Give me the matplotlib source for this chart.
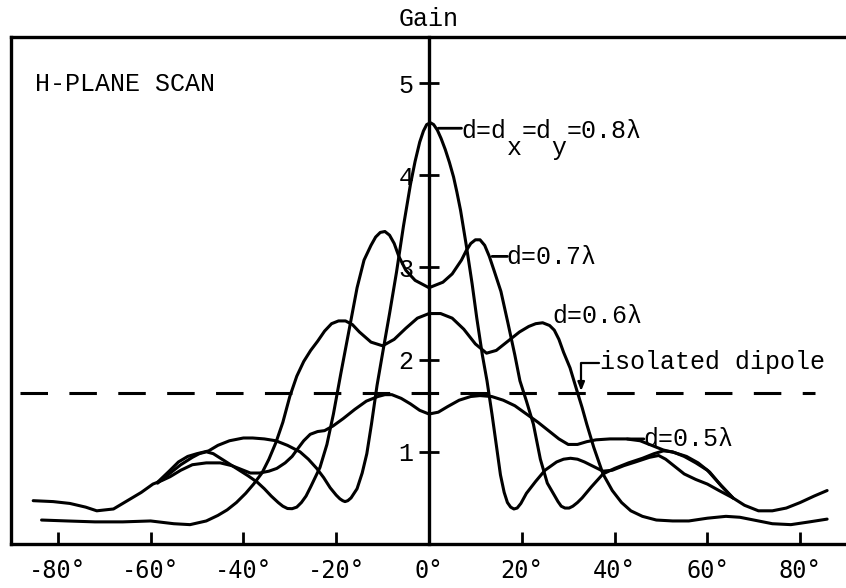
import matplotlib
matplotlib.use("Agg")
import matplotlib.pyplot as plt

# ---------------- data ----------------
# d = 0.5 lambda
x05 = [-85.3, -81, -77.4, -74, -71.6, -68, -65, -62, -59.5, -57.5, -55.8, -53.5, -51, -48, -45,
       -42.5, -40.5, -38.5, -36.5, -34.5, -32.8, -31, -29.5, -28.2, -27, -25.6, -24, -22.5, -20.7,
       -18.5, -16, -13.5, -11, -9.5, -8, -6, -4, -2, 0, 2, 4, 6.5, 9, 11, 13.5, 16, 18.5, 21, 23.5,
       26, 28, 30, 32, 34, 36, 39, 42.5, 45.5, 48, 50.5, 53, 55.5, 58, 60.5, 63, 65.5, 68, 71,
       74, 77, 80, 83, 85.8]
y05 = [0.47, 0.46, 0.44, 0.40, 0.36, 0.38, 0.47, 0.56, 0.65, 0.69, 0.73, 0.80, 0.86, 0.88, 0.88,
       0.85, 0.81, 0.77, 0.77, 0.79, 0.82, 0.88, 0.95, 1.04, 1.12, 1.19, 1.22, 1.23, 1.28,
       1.36, 1.46, 1.55, 1.60, 1.62, 1.62, 1.58, 1.52, 1.45, 1.41, 1.43, 1.49, 1.56, 1.60, 1.61,
       1.60, 1.56, 1.50, 1.41, 1.32, 1.22, 1.14, 1.08, 1.08, 1.11, 1.13, 1.14, 1.14, 1.12, 1.07,
       1.02, 0.99, 0.95, 0.88, 0.78, 0.63, 0.50, 0.42, 0.36, 0.36, 0.39, 0.45, 0.52, 0.58]

# d = 0.6 lambda
x06 = [-83.5, -78, -72, -66, -60, -55, -51.5, -48, -45.5, -43.5, -41.5, -39.5, -37.8, -36, -34.5,
       -33, -31.5, -30, -28.5, -27, -25.5, -24, -22.5, -21, -19.5, -18, -16.5, -15, -12.5, -10,
       -7.5, -5, -2.5, 0, 2.5, 5, 7.5, 10, 12.4, 14.5, 17, 19.5, 21.5, 23, 24.5, 26, 27, 28, 29,
       30.4, 31.9, 33, 34, 35.5, 37.5, 39.5, 41.5, 43.5, 46, 49, 52.5, 56, 60, 64, 67, 70, 74, 78,
       82, 85.8]
y06 = [0.26, 0.25, 0.24, 0.24, 0.25, 0.22, 0.21, 0.25, 0.31, 0.37, 0.45, 0.55, 0.65, 0.77, 0.92,
       1.10, 1.32, 1.60, 1.82, 1.98, 2.10, 2.20, 2.31, 2.39, 2.42, 2.42, 2.38, 2.30, 2.19, 2.15,
       2.22, 2.34, 2.45, 2.50, 2.50, 2.45, 2.33, 2.17, 2.07, 2.10, 2.20, 2.30, 2.36, 2.39, 2.40,
       2.37, 2.32, 2.22, 2.08, 1.91, 1.66, 1.48, 1.30, 1.05, 0.76, 0.58, 0.45, 0.36, 0.30, 0.26,
       0.25, 0.25, 0.28, 0.30, 0.29, 0.26, 0.22, 0.21, 0.24, 0.27]

# d = 0.7 lambda
x07 = [-58.5, -56, -53.5, -51, -49.5, -48, -46.5, -44, -41.5, -39, -37, -35.5, -34, -32.5, -31.5,
       -30.5, -29.5, -28.5, -27.5, -26.5, -25.5, -23.5, -22, -20.6, -19, -17, -15.5, -14, -12.5,
       -11.5, -10.5, -9.5, -8.5, -7.5, -6.5, -5, -3, 0, 3, 5, 7, 8, 9, 10, 11, 12, 13, 14, 15.5,
       17, 18.5, 19.6, 21, 22.5, 24, 25.5, 27, 27.8, 28.5, 29.3, 30.2, 31, 32, 33, 35, 37.5, 40,
       43, 46, 48.5, 50.5, 52.5, 55, 57.5, 60, 62.5, 65.5]
y07 = [0.66, 0.76, 0.86, 0.94, 0.98, 1.00, 0.98, 0.90, 0.82, 0.74, 0.67, 0.60, 0.52, 0.45, 0.41,
       0.385, 0.383, 0.40, 0.45, 0.52, 0.62, 0.83, 1.08, 1.41, 1.85, 2.38, 2.78, 3.08, 3.24,
       3.33, 3.38, 3.39, 3.35, 3.26, 3.12, 2.97, 2.86, 2.78, 2.84, 2.93, 3.08, 3.18, 3.26, 3.30,
       3.30, 3.24, 3.12, 2.97, 2.74, 2.40, 2.05, 1.77, 1.55, 1.30, 0.92, 0.66, 0.53, 0.46, 0.41,
       0.39, 0.39, 0.41, 0.45, 0.50, 0.62, 0.76, 0.82, 0.88, 0.93, 0.98, 1.01, 1.00, 0.95, 0.88,
       0.80, 0.66, 0.50]

# d = dx = dy = 0.8 lambda
x08 = [-58.5, -56, -54, -52, -50, -47.5, -45.5, -43, -40, -38, -35.5, -33, -30.5, -27.8, -26,
       -24.2, -22.7, -21.3, -20, -19.2, -18.6, -18.1, -17.5, -16.8, -15.5, -14.4, -13.4, -12.4,
       -11.2, -10, -8.5, -7, -5.5, -4, -3, -2, -1.2, -0.5, 0.3, 1, 1.8, 2.6, 3.5, 4.4, 5.3, 6.0,
       6.8, 8.1, 9.3, 10.3, 11.5, 12.5, 13.6, 14.6, 15.4, 16.2, 16.9, 17.6, 18.3, 19.0, 19.8, 21,
       23, 25, 27.5, 29, 30.5, 32, 33.5, 35.5, 37.5, 39.5, 42, 44.5, 47.5, 49.5, 51, 53, 55, 57.5,
       60, 62.5, 65.5]
y08 = [0.67, 0.79, 0.89, 0.95, 0.98, 1.01, 1.07, 1.12, 1.15, 1.15, 1.14, 1.12, 1.07, 1.00, 0.92,
       0.82, 0.72, 0.61, 0.53, 0.49, 0.47, 0.46, 0.47, 0.50, 0.60, 0.77, 0.98, 1.30,
       1.72, 2.07, 2.50, 2.95, 3.45, 3.90, 4.15, 4.36, 4.48, 4.55, 4.57, 4.55, 4.49, 4.40, 4.28,
       4.14, 3.98, 3.82, 3.62, 3.22, 2.82, 2.45, 2.05, 1.77, 1.40, 1.04, 0.75, 0.56, 0.45, 0.40,
       0.38, 0.39, 0.44, 0.55, 0.68, 0.80, 0.89, 0.92, 0.93, 0.92, 0.89, 0.84, 0.79, 0.80, 0.85,
       0.89, 0.94, 0.96, 0.92, 0.84, 0.76, 0.70, 0.65, 0.58, 0.50]

isolated_dipole_gain = 1.64

xticks = [-80, -60, -40, -20, 0, 20, 40, 60, 80]
xtick_labels = ["-80°", "-60°", "-40°", "-20°", "0°", "20°", "40°", "60°", "80°"]
yticks = [1, 2, 3, 4, 5]
ytick_labels = ["1", "2", "3", "4", "5"]

# ---------------- figure ----------------
W, H = 846, 588
fig = plt.figure(figsize=(W / 100, H / 100), dpi=100)
ax = fig.add_axes([11.4 / W, 44 / H, 835.2 / W, 507 / H])
ax.set_xlim(-90, 90)
ax.set_ylim(0, 5.5)

mono = "Liberation Mono"
LW = 2.2
line_kw = dict(color="black", lw=LW, solid_capstyle="round", solid_joinstyle="round")

ax.plot(x05, y05, **line_kw)
ax.plot(x06, y06, **line_kw)
ax.plot(x07, y07, **line_kw)
ax.plot(x08, y08, **line_kw)

ax.axhline(isolated_dipole_gain, xmin=0.01, xmax=0.962, color="black", lw=LW,
           linestyle=(0, (9, 7)))

# frame / axes
for s in ["top", "bottom", "left"]:
    ax.spines[s].set_linewidth(2.4)
ax.spines["right"].set_visible(False)
ax.spines["left"].set_position(("data", 0))
ax.axvline(-90, color="black", lw=2.4, clip_on=False)

ax.set_xticks(xticks)
ax.set_xticklabels(xtick_labels, fontfamily="DejaVu Sans Mono", fontsize=17)
ax.tick_params(axis="x", direction="in", length=9, width=2.0, pad=11)
ax.set_yticks(yticks)
ax.set_yticklabels(ytick_labels, fontfamily=mono, fontsize=18)
ax.tick_params(axis="y", direction="inout", length=14, width=2.0, pad=4)

FS = 18
txt_kw = dict(fontfamily=mono, fontsize=FS, color="black")
ADV = 0.6 * FS  # monospace advance in points

ax.text(0, 5.69, "Gain", ha="center", va="center", clip_on=False, **txt_kw)
ax.text(-85, 4.99, "H-PLANE SCAN", ha="left", va="center", **txt_kw)

leader = dict(arrowstyle="-", lw=2.0, color="black", shrinkA=0, shrinkB=0)

# d = dx = dy = 0.8 lambda (with subscripts), typed cell by cell
ax.annotate("", xy=(2.0, 4.51), xytext=(7.0, 4.51), arrowprops=leader)
anchor = (7.0, 4.40)
pieces = [("d=d", 0, 0), ("x", 3, -12), ("=d", 4, 0), ("y", 6, -12), ("=0.8λ", 7, 0)]
for s, cell, dy in pieces:
    ax.annotate(s, xy=anchor, xytext=(cell * ADV, dy), textcoords="offset points",
                ha="left", va="baseline", **txt_kw)

# d = 0.7 lambda
ax.annotate("", xy=(13.6, 3.12), xytext=(16.9, 3.12), arrowprops=leader)
ax.text(16.7, 3.04, "d=0.7λ", ha="left", va="baseline", **txt_kw)

# d = 0.6 lambda
ax.text(26.6, 2.40, "d=0.6λ", ha="left", va="baseline", **txt_kw)

# d = 0.5 lambda
ax.annotate("", xy=(42.7, 1.14), xytext=(46.3, 1.14), arrowprops=leader)
ax.text(46.3, 1.06, "d=0.5λ", ha="left", va="baseline", **txt_kw)

# isolated dipole
ax.annotate("", xy=(32.8, isolated_dipole_gain + 0.02), xytext=(36.6, 1.96),
            arrowprops=dict(arrowstyle="-|>,head_length=0.5,head_width=0.2", lw=1.6,
                            color="black", shrinkA=0, shrinkB=0,
                            connectionstyle="angle,angleA=0,angleB=90,rad=0"))
ax.text(36.9, 1.90, "isolated dipole", ha="left", va="baseline", **txt_kw)

fig.savefig("out.png", dpi=100)
